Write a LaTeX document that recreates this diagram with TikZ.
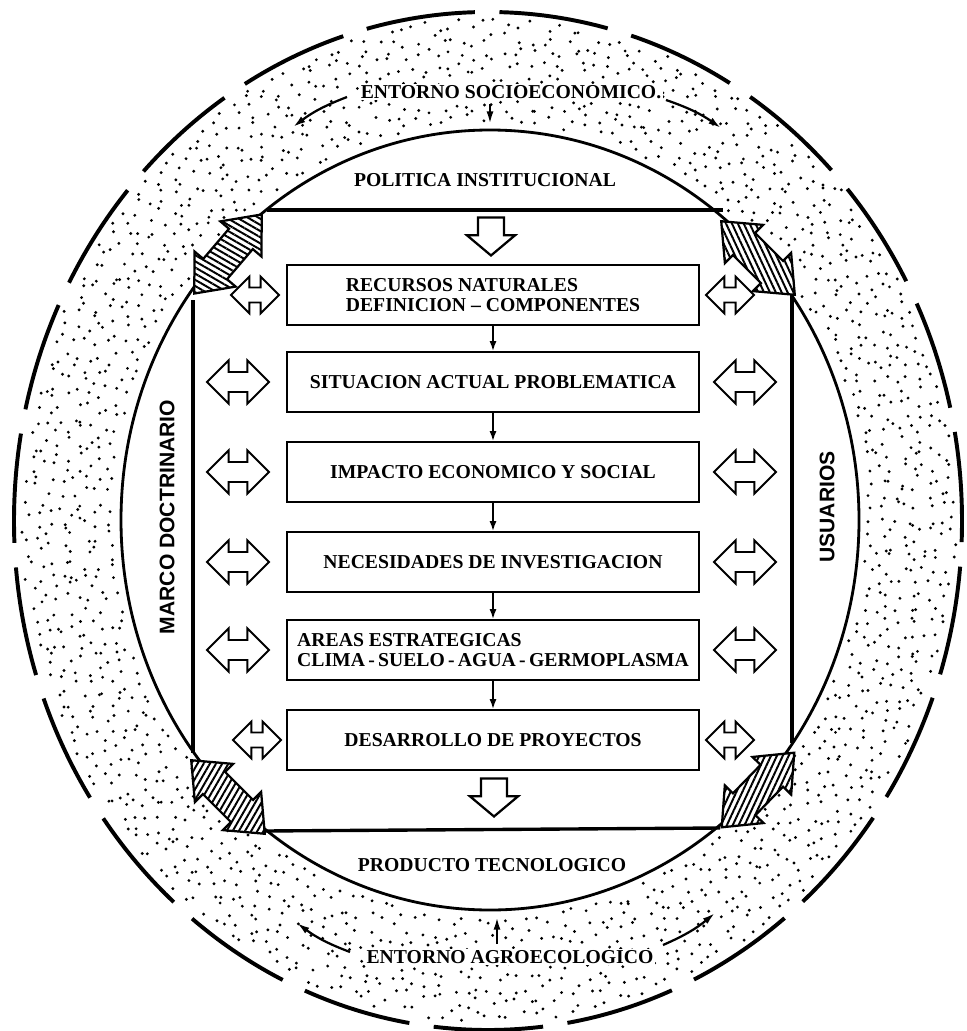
\documentclass[tikz,border=0pt]{standalone}
\usepackage{fontspec}
\setmainfont{Liberation Serif}
\setsansfont{Liberation Sans}
\usetikzlibrary{arrows.meta,shapes.arrows,patterns.meta}

\begin{document}
\begin{tikzpicture}[x=0.025cm, y=-0.025cm,
    box/.style={draw, line width=1.4pt, minimum width=10.3cm, minimum height=1.5cm, align=center, font=\bfseries\fontsize{14}{14.5}\selectfont},
    lbl/.style={font=\bfseries\fontsize{14}{14.5}\selectfont},
    bandlbl/.style={lbl, fill=white, inner sep=1pt},
    side/.style={font=\sffamily\bfseries\fontsize{15}{15.5}\selectfont, rotate=90},
    twoway/.style={double arrow, draw, line width=1.3pt, fill=white, inner sep=0.19cm, minimum height=1.55cm, minimum width=1.08cm},
    smalltwoway/.style={twoway, inner sep=0.15cm, minimum height=1.2cm, minimum width=0.92cm},
    hatched/.style={double arrow, draw, line width=1.6pt, inner sep=0.32cm, minimum height=2.6cm, minimum width=1.35cm, double arrow tip angle=80, preaction={fill=white}},
    blockarrow/.style={single arrow, draw, line width=1.6pt, fill=white, inner sep=0.27cm, minimum height=0.95cm, minimum width=1.2cm, single arrow tip angle=100, rotate=-90},
    flow/.style={-{Latex[length=7pt,width=5pt]}, line width=1.2pt},
    ring/.style={-{Latex[length=9pt,width=5pt]}, line width=1.6pt},
    frame/.style={line width=2.4pt}
  ]
  \useasboundingbox (0,0) rectangle (966,1031);

  % stippled band
  \pgfmathsetseed{42}
  \foreach \k in {0,...,7}{
    \pgfmathtruncatemacro{\nn}{2*pi*(430+12*\k)/13.5}
    \pgfmathsetmacro{\stepang}{360/\nn}
    \foreach \j in {1,...,\nn}{
      \pgfmathsetmacro{\ang}{\stepang*(\j+0.45*rand)}
      \pgfmathsetmacro{\spread}{(\k+0.5+0.45*rand)/8}
      \fill ({489+(376+92*\spread)*cos(\ang)},{520+(397+106*\spread)*sin(\ang)}) circle[radius=1.6];
    }
  }
  \draw[line width=2.8pt, dash pattern=on 78pt off 17.5pt, dash phase=63pt] (488,521) ellipse[x radius=474, y radius=509];
  \draw[line width=2pt] (490,520) ellipse[x radius=369, y radius=390];

  % frame
  \coordinate (tl) at (267,210);
  \coordinate (tr) at (723,210);
  \coordinate (bl) at (263,831);
  \coordinate (br) at (720,828);
  \coordinate (lt) at (193,300);
  \coordinate (lb) at (193,753);
  \coordinate (rt) at (792,293);
  \coordinate (rb) at (792,743);
  \draw[frame] (tl) -- (tr);
  \draw[frame] (bl) -- (br);
  \draw[frame] (lt) -- (lb);
  \draw[frame] (rt) -- (rb);

  \node[hatched, rotate=49.5, pattern={Lines[angle=-30, distance=3.8pt, line width=1.4pt]}] (hatchTL) at (228,254) {};
  \node[hatched, rotate=-45, pattern={Lines[angle=115, distance=3.8pt, line width=1.4pt]}] (hatchTR) at (758,258) {};
  \node[hatched, rotate=-45, pattern={Lines[angle=60, distance=3.8pt, line width=1.4pt]}] (hatchBL) at (228,797) {};
  \node[hatched, rotate=45.8, pattern={Lines[angle=65, distance=3.8pt, line width=1.4pt]}] (hatchBR) at (758,790) {};

  % labels
  \node[bandlbl] (socio) at (511,92) {ENTORNO SOCIOECONOMICO.};
  \node[lbl] (politica) at (485,180) {POLITICA INSTITUCIONAL};
  \node[lbl] (producto) at (492,865) {PRODUCTO TECNOLOGICO};
  \node[bandlbl] (agro) at (510,957) {ENTORNO AGROECOLOGICO};
  \node[side] (marco) at (167,517) {MARCO DOCTRINARIO};
  \node[side] (usuarios) at (827,507) {USUARIOS};

  % steps
  \node[box, align=left] (b1) at (493,295) {RECURSOS NATURALES\\DEFINICION -- COMPONENTES};
  \node[box] (b2) at (493,382) {SITUACION ACTUAL PROBLEMATICA};
  \node[box] (b3) at (493,472) {IMPACTO ECONOMICO Y SOCIAL};
  \node[box] (b4) at (493,562) {NECESIDADES DE INVESTIGACION};
  \node[box, align=left] (b5) at (493,650) {AREAS ESTRATEGICAS\\CLIMA\,-\,SUELO\,-\,AGUA\,-\,GERMOPLASMA};
  \node[box] (b6) at (493,740) {DESARROLLO DE PROYECTOS};
  \draw[flow] (b1) -- (b2);
  \draw[flow] (b2) -- (b3);
  \draw[flow] (b3) -- (b4);
  \draw[flow] (b4) -- (b5);
  \draw[flow] (b5) -- (b6);

  \node[blockarrow] (input) at (491,231) {};
  \node[blockarrow] (output) at (494,792) {};

  % exchanges
  \node[smalltwoway] (left1) at (255,295) {};
  \node[smalltwoway] (right1) at (730,295) {};
  \foreach \y/\n in {382/2, 472/3, 562/4, 650/5}{
    \node[twoway] (left\n) at (238,\y) {};
    \node[twoway] (right\n) at (745,\y) {};
  }
  \node[smalltwoway] (left6) at (257,740) {};
  \node[smalltwoway] (right6) at (730,740) {};

  % band arrows
  \coordinate (sa0) at (347,97);
  \coordinate (sa1) at (293,127);
  \coordinate (sb0) at (666,100);
  \coordinate (sb1) at (721,128);
  \coordinate (sc0) at (490,104);
  \coordinate (sc1) at (490,124);
  \coordinate (aa0) at (350,952);
  \coordinate (aa1) at (297,923);
  \coordinate (ab0) at (663,945);
  \coordinate (ab1) at (715,913);
  \coordinate (ac0) at (497,944);
  \coordinate (ac1) at (497,917);
  \draw[ring] (sa0) to[bend right=8] (sa1);
  \draw[ring] (sb0) to[bend left=8] (sb1);
  \draw[ring] (sc0) -- (sc1);
  \draw[ring] (aa0) to[bend left=8] (aa1);
  \draw[ring] (ab0) to[bend right=8] (ab1);
  \draw[ring] (ac0) -- (ac1);
\end{tikzpicture}
\end{document}
